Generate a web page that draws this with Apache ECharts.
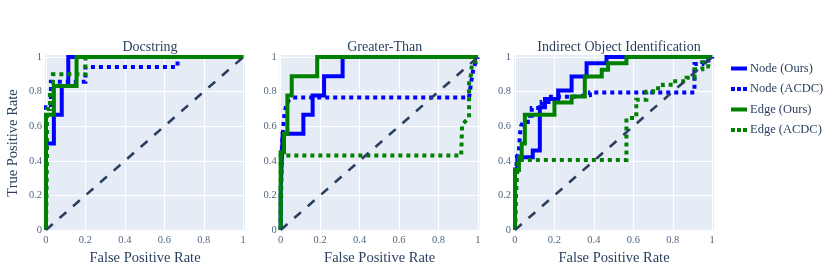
<!DOCTYPE html>
<html>
<head>
<meta charset="utf-8">
<script src="https://cdn.jsdelivr.net/npm/echarts@6/dist/echarts.min.js"></script>
<style>html,body{margin:0;padding:0;background:#fff}#c{width:831px;height:277px}</style>
</head>
<body>
<div id="c"></div>
<script>
// ---- data ----
var panelTitles = ['Docstring', 'Greater-Than', 'Indirect Object Identification'];
var seriesNames = ['Node (Ours)', 'Node (ACDC)', 'Edge (Ours)', 'Edge (ACDC)'];
var tickValues = [0, 0.2, 0.4, 0.6, 0.8, 1];

// Docstring
var docNodeOurs = [[0,0],[0,0.5],[0.04,0.5],[0.04,0.667],[0.08,0.667],[0.08,0.833],[0.113,0.833],[0.113,1],[1,1]];
var docNodeAcdc = [[0,0],[0,0.71],[0.025,0.71],[0.025,0.857],[0.2,0.857],[0.2,0.943],[0.667,0.943],[0.667,0.98]];
var docEdgeOurs = [[0,0],[0,0.667],[0.04,0.667],[0.04,0.833],[0.155,0.833],[0.155,1],[1,1]];
var docEdgeAcdc = [[0,0],[0.005,0.42],[0.005,0.7],[0.02,0.7],[0.02,0.8],[0.035,0.8],[0.035,0.9],[0.2,0.9],[0.2,1],[1,1]];

// Greater-Than
var gtNodeOurs = [[0,0],[0,0.22],[0.01,0.22],[0.01,0.556],[0.115,0.556],[0.115,0.667],[0.162,0.667],[0.162,0.778],[0.22,0.778],[0.22,0.889],[0.314,0.889],[0.314,1],[1,1]];
var gtNodeAcdc = [[0,0],[0.005,0.45],[0.01,0.55],[0.015,0.62],[0.02,0.68],[0.028,0.72],[0.04,0.75],[0.06,0.766],[0.955,0.766],[0.965,0.85],[0.975,0.92],[0.985,0.96],[1,1]];
var gtEdgeOurs = [[0,0],[0,0.45],[0.017,0.45],[0.017,0.556],[0.034,0.556],[0.034,0.778],[0.056,0.778],[0.056,0.889],[0.185,0.889],[0.185,1],[1,1]];
var gtEdgeAcdc = [[0,0],[0,0.43],[0.915,0.43],[0.92,0.61],[0.955,0.65],[0.955,0.85],[0.965,0.9],[0.97,0.965],[1,0.98]];

// Indirect Object Identification
var ioiNodeOurs = [[0,0],[0,0.35],[0.012,0.35],[0.012,0.42],[0.09,0.42],[0.09,0.46],[0.126,0.46],[0.126,0.71],[0.152,0.71],[0.152,0.757],[0.219,0.757],[0.219,0.807],[0.287,0.807],[0.287,0.888],[0.363,0.888],[0.363,0.965],[0.464,0.965],[0.464,1],[1,1]];
var ioiNodeAcdc = [[0,0],[0.005,0.3],[0.01,0.42],[0.02,0.46],[0.025,0.55],[0.03,0.6],[0.04,0.625],[0.065,0.625],[0.065,0.66],[0.085,0.66],[0.085,0.705],[0.135,0.705],[0.135,0.74],[0.17,0.74],[0.17,0.77],[0.29,0.77],[0.29,0.78],[0.38,0.78],[0.38,0.795],[0.91,0.795],[0.91,0.96],[0.95,0.96],[0.95,0.98],[1,0.98],[1,1]];
var ioiEdgeOurs = [[0,0],[0,0.347],[0.02,0.347],[0.02,0.42],[0.034,0.42],[0.034,0.5],[0.05,0.5],[0.05,0.666],[0.2,0.666],[0.2,0.737],[0.287,0.737],[0.287,0.772],[0.354,0.772],[0.354,0.888],[0.44,0.888],[0.44,0.927],[0.472,0.927],[0.472,0.965],[0.565,0.965],[0.565,1],[1,1]];
var ioiEdgeAcdc = [[0,0],[0.005,0.2],[0.01,0.3],[0.015,0.405],[0.565,0.405],[0.565,0.647],[0.615,0.647],[0.615,0.753],[0.666,0.753],[0.666,0.8],[0.7,0.8],[0.7,0.82],[0.75,0.82],[0.75,0.84],[0.8,0.84],[0.8,0.86],[0.87,0.86],[0.87,0.88],[0.91,0.88],[0.91,0.93],[0.95,0.93],[0.95,0.97],[0.98,0.97],[0.98,0.945],[1,0.945]];

var diagonal = [[0,0],[1,1]];

var panelData = [
  [docNodeOurs, docNodeAcdc, docEdgeOurs, docEdgeAcdc],
  [gtNodeOurs, gtNodeAcdc, gtEdgeOurs, gtEdgeAcdc],
  [ioiNodeOurs, ioiNodeAcdc, ioiEdgeOurs, ioiEdgeAcdc]
];

// ---- styling / layout ----
var FONT = '"Liberation Serif", "DejaVu Serif", serif';
var TXT = '#2a3f5f';
var TICK = '#506784';
var seriesColors = ['#0000ff', '#0000ff', '#008000', '#008000'];
var seriesDash = ['solid', [4, 4], 'solid', [4, 4]];
var ICON_SOLID = 'path://M0,0H16V4H0Z';
var ICON_DOT = 'path://M0,0H4V4H0Z M6,0H10V4H6Z M12,0H16V4H12Z';
var legendIcons = [ICON_SOLID, ICON_DOT, ICON_SOLID, ICON_DOT];
var gridLefts = [45, 279.7, 514];
var gridW = 200, gridTop = 55, gridH = 176;

var chart = echarts.init(document.getElementById('c'), null, {renderer: 'canvas'});

var grids = [], xAxes = [], yAxes = [], series = [], titles = [];
function fmt(v){ return String(+(+v).toFixed(2)); }

for (var p = 0; p < 3; p++) {
  grids.push({left: gridLefts[p], top: gridTop, width: gridW, height: gridH,
    show: true, backgroundColor: '#E5ECF6', borderWidth: 0, containLabel: false});
  xAxes.push({type: 'value', gridIndex: p, min: -0.005, max: 1.009,
    axisLine: {show: false}, axisTick: {show: false, customValues: tickValues},
    axisLabel: {customValues: tickValues, formatter: fmt, color: TICK, fontFamily: FONT, fontSize: 10.5, margin: 4},
    splitLine: {show: true, lineStyle: {color: '#ffffff', width: 1}},
    name: 'False Positive Rate', nameLocation: 'middle', nameGap: 20,
    nameTextStyle: {color: TXT, fontFamily: FONT, fontSize: 14.5}});
  yAxes.push({type: 'value', gridIndex: p, min: -0.006, max: 1.012,
    axisLine: {show: false}, axisTick: {show: false, customValues: tickValues},
    axisLabel: {customValues: tickValues, formatter: fmt, color: TICK, fontFamily: FONT, fontSize: 10.5, margin: 3},
    splitLine: {show: true, lineStyle: {color: '#ffffff', width: 1}},
    name: p === 0 ? 'True Positive Rate' : '', nameLocation: 'middle', nameGap: 24,
    nameTextStyle: {color: TXT, fontFamily: FONT, fontSize: 14.5}});
  titles.push({text: panelTitles[p], left: gridLefts[p] + gridW / 2, top: 35, textAlign: 'center',
    textStyle: {color: TXT, fontFamily: FONT, fontSize: 14, fontWeight: 'normal'}});
  for (var s = 0; s < 4; s++) {
    series.push({type: 'line', name: seriesNames[s], xAxisIndex: p, yAxisIndex: p,
      data: panelData[p][s], symbol: 'none', showSymbol: false, clip: false, z: 3 + s,
      lineStyle: {color: seriesColors[s], width: 4, type: seriesDash[s], cap: 'butt', join: 'miter'},
      itemStyle: {color: seriesColors[s]}, emphasis: {disabled: true}, animation: false});
  }
  series.push({type: 'line', name: 'diag', xAxisIndex: p, yAxisIndex: p, data: diagonal,
    symbol: 'none', clip: false, z: 10,
    lineStyle: {color: TXT, width: 2.6, type: [9, 9], cap: 'butt'}, emphasis: {disabled: true}, animation: false});
}

var legendData = seriesNames.map(function (n, i) {
  return {name: n, icon: legendIcons[i], itemStyle: {color: seriesColors[i], borderWidth: 0}};
});

chart.setOption({
  animation: false,
  title: titles,
  grid: grids,
  xAxis: xAxes,
  yAxis: yAxes,
  legend: {data: legendData, orient: 'vertical', left: 726, top: 57, itemWidth: 16, itemHeight: 4,
    itemGap: 7.5, selectedMode: false,
    textStyle: {color: TXT, fontFamily: FONT, fontSize: 12.5, padding: [0, 0, 0, -2]}},
  series: series
});
</script>
</body>
</html>
